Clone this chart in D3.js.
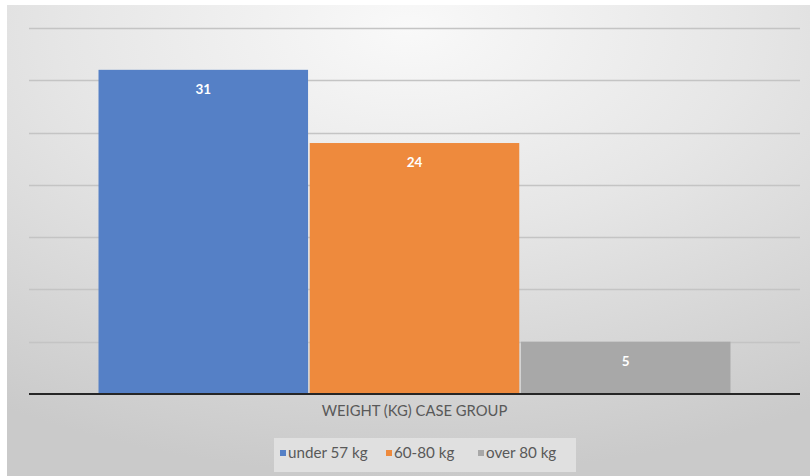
<!DOCTYPE html>
<html>
<head>
<meta charset="utf-8">
<script src="https://cdn.jsdelivr.net/npm/d3@7"></script>
<style>
  html, body { margin: 0; padding: 0; background: #ffffff; }
  svg { display: block; }
</style>
</head>
<body>
<svg id="chart" width="810" height="476"></svg>
<script>
// Cases by weight group
const categories = ["WEIGHT (KG) CASE GROUP"];
const series = ["under 57 kg", "60-80 kg", "over 80 kg"];
const values = [31, 24, 5];
const colors = ["#5580c6", "#ee8a3d", "#a8a8a8"];
const yTicks = [5, 10, 15, 20, 25, 30, 35];

const W = 810, H = 476;
const svg = d3.select("#chart");
const font = "Lato, 'Open Sans', sans-serif";

// Panel background with soft gradient
const defs = svg.append("defs");
const grad = defs.append("radialGradient")
  .attr("id", "bg").attr("cx", "50%").attr("cy", "5%").attr("r", "95%")
  .attr("fx", "50%").attr("fy", "5%");
grad.append("stop").attr("offset", "0%").attr("stop-color", "#f9f9f9");
grad.append("stop").attr("offset", "45%").attr("stop-color", "#e6e6e6");
grad.append("stop").attr("offset", "100%").attr("stop-color", "#cacaca");

svg.append("rect").attr("x", 7).attr("y", 5).attr("width", W - 7).attr("height", H - 5)
  .attr("fill", "url(#bg)");

const plot = { left: 29, right: 800, top: 28, bottom: 394 };

const y = d3.scaleLinear().domain([0, 35]).range([plot.bottom, plot.top]);

const x0 = d3.scaleBand().domain(categories).range([plot.left, plot.right])
  .paddingOuter(0.11).paddingInner(0);
const x1 = d3.scaleBand().domain(series).range([0, x0.bandwidth()]).paddingInner(0.008);

// Horizontal gridlines
svg.append("g").selectAll("line").data(yTicks).join("line")
  .attr("x1", plot.left).attr("x2", plot.right)
  .attr("y1", d => Math.round(y(d)) + 0.5).attr("y2", d => Math.round(y(d)) + 0.5)
  .attr("stroke", "#c4c4c4").attr("stroke-width", 1.6);

// Bars
const g = svg.append("g").attr("transform", `translate(${x0(categories[0])},0)`);
const data = series.map((s, i) => ({ s, v: values[i], c: colors[i] }));
g.selectAll("rect").data(data).join("rect")
  .attr("x", d => x1(d.s)).attr("width", x1.bandwidth())
  .attr("y", d => y(d.v)).attr("height", d => y(0) - y(d.v))
  .attr("fill", d => d.c);

// Value labels
g.selectAll("text").data(data).join("text")
  .attr("x", d => x1(d.s) + x1.bandwidth() / 2)
  .attr("y", d => y(d.v) + 24)
  .attr("text-anchor", "middle")
  .attr("fill", "#ffffff").attr("font-family", font)
  .attr("font-weight", "bold").attr("font-size", 13.5)
  .text(d => d.v);

// Baseline
svg.append("line").attr("x1", plot.left).attr("x2", plot.right)
  .attr("y1", y(0)).attr("y2", y(0))
  .attr("stroke", "#262626").attr("stroke-width", 2);

// Category axis label
svg.append("text")
  .attr("x", x0(categories[0]) + x0.bandwidth() / 2).attr("y", 416)
  .attr("text-anchor", "middle").attr("fill", "#595959")
  .attr("font-family", font).attr("font-size", 14.8)
  .text(categories[0]);

// Legend
const lg = svg.append("g");
lg.append("rect").attr("x", 274).attr("y", 438).attr("width", 302).attr("height", 34)
  .attr("fill", "#e5e5e5").attr("opacity", 0.8);
const legendX = [280, 386, 478];
const items = lg.selectAll("g.item").data(data).join("g")
  .attr("class", "item")
  .attr("transform", (d, i) => `translate(${legendX[i]},0)`);
items.append("rect").attr("x", 0).attr("y", 450).attr("width", 6).attr("height", 6)
  .attr("fill", d => d.c);
items.append("text").attr("x", 8).attr("y", 458)
  .attr("fill", "#595959").attr("font-family", font).attr("font-size", 15.2)
  .text(d => d.s);
</script>
</body>
</html>
